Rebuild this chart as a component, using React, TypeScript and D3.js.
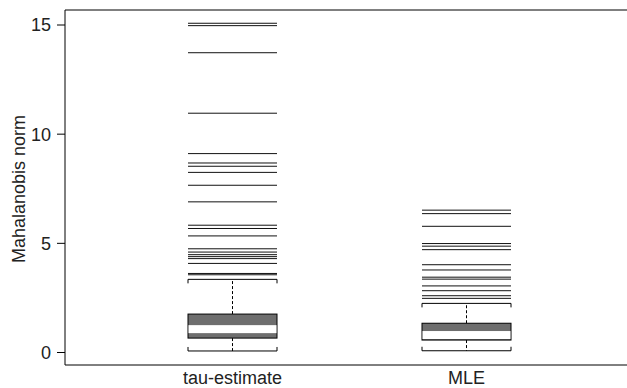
import React from "react";
import * as d3 from "d3";

const categories = ["tau-estimate", "MLE"];
const q1 = [0.66, 0.57];
const median = [1.07, 0.8];
const q3 = [1.76, 1.34];
const whiskerLow = [0.07, 0.08];
const whiskerHigh = [3.35, 2.25];
const outliersTau = [15.08, 14.97, 13.73, 10.96, 9.11, 8.68, 8.53, 8.25, 7.66, 6.9, 5.83, 5.68, 5.34, 4.75, 4.6, 4.48, 4.39, 4.3, 4.08, 3.62, 3.56];
const outliersMLE = [6.52, 6.36, 5.78, 4.99, 4.87, 4.71, 4.02, 3.78, 3.45, 3.36, 3.05, 2.83, 2.6, 2.48];
const outliers = [outliersTau, outliersMLE];
const yTicks = [0, 5, 10, 15];

const W = 627;
const H = 388;
const left = 65;
const top = 10;
const bottom = 365;
const boxW = 89;
const fs = 18;
const font = "Liberation Sans, Arial, Helvetica, sans-serif";

export default function App() {
  const y = d3.scaleLinear().domain([0, 15]).range([352.5, 25]);
  const x = d3.scalePoint<string>().domain(categories).range([232.5, 466.5]);
  return (
    <svg width={W} height={H} style={{ position: "absolute", left: 0, top: 0 }} fontFamily={font}>
      <rect x={0} y={0} width={W} height={H} fill="#fff" />
      <line x1={left} x2={W} y1={top} y2={top} stroke="#000" strokeWidth={1} />
      <line x1={left} x2={W} y1={bottom} y2={bottom} stroke="#000" strokeWidth={1} />
      <line x1={left} x2={left} y1={top} y2={bottom} stroke="#000" strokeWidth={1} />
      {yTicks.map((t) => (
        <g key={t}>
          <line x1={left - 8} x2={left} y1={y(t)} y2={y(t)} stroke="#000" />
          <text x={51} y={y(t)} dy="0.36em" textAnchor="end" fontSize={fs} fill="#222">
            {t}
          </text>
        </g>
      ))}
      <text transform={`translate(25,189) rotate(-90)`} textAnchor="middle" fontSize={fs} fill="#222">
        Mahalanobis norm
      </text>
      {categories.map((c, i) => {
        const cx = x(c)!;
        const x0 = cx - boxW / 2;
        const x1 = cx + boxW / 2;
        return (
          <g key={c}>
            {outliers[i].map((v, j) => (
              <line key={j} x1={x0} x2={x1} y1={y(v)} y2={y(v)} stroke="#111" strokeWidth={1} />
            ))}
            <line x1={cx} x2={cx} y1={y(q3[i])} y2={y(whiskerHigh[i])} stroke="#000" strokeDasharray="3,2" />
            <line x1={cx} x2={cx} y1={y(q1[i])} y2={y(whiskerLow[i])} stroke="#000" strokeDasharray="3,2" />
            <path
              d={`M${x0},${y(whiskerHigh[i]) + 4}V${y(whiskerHigh[i])}H${x1}V${y(whiskerHigh[i]) + 4}`}
              fill="none"
              stroke="#000"
            />
            <path
              d={`M${x0},${y(whiskerLow[i]) - 4}V${y(whiskerLow[i])}H${x1}V${y(whiskerLow[i]) - 4}`}
              fill="none"
              stroke="#000"
            />
            <rect x={x0} y={y(q3[i])} width={boxW} height={y(q1[i]) - y(q3[i])} fill="#6e6e6e" stroke="#000" />
            <rect x={x0 + 0.5} y={y(median[i]) - 4} width={boxW - 1} height={8} fill="#fff" />
            <text x={cx} y={384} textAnchor="middle" fontSize={fs} fill="#222">
              {c}
            </text>
          </g>
        );
      })}
    </svg>
  );
}
